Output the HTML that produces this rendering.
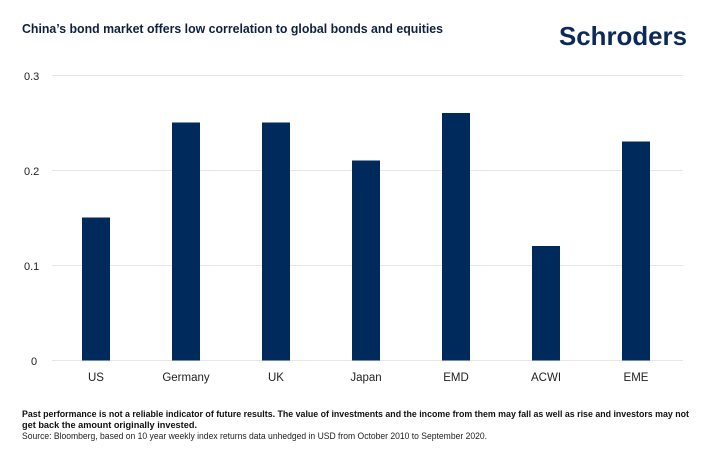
<!DOCTYPE html>
<html><head><meta charset="utf-8"><style>
body{margin:0;background:#fff;width:708px;height:449px;overflow:hidden;font-family:"Liberation Sans",sans-serif}
</style></head><body>
<svg width="708" height="449" xmlns="http://www.w3.org/2000/svg" font-family="Liberation Sans, sans-serif">
<text x="22" y="33" font-size="12.5" font-weight="bold" fill="#0f2040" textLength="421" lengthAdjust="spacingAndGlyphs">China’s bond market offers low correlation to global bonds and equities</text>
<text x="559" y="45" font-size="26" font-weight="bold" fill="#0b2a5b" textLength="128" lengthAdjust="spacingAndGlyphs">Schroders</text>
<g stroke="#e6e6e6" stroke-width="1">
<line x1="52" y1="75.5" x2="683" y2="75.5"/>
<line x1="52" y1="170.5" x2="683" y2="170.5"/>
<line x1="52" y1="265.5" x2="683" y2="265.5"/>
<line x1="52" y1="360.5" x2="683" y2="360.5"/>
</g>
<g font-size="11" fill="#222">
<text x="24" y="80">0.3</text>
<text x="24" y="175">0.2</text>
<text x="24" y="270">0.1</text>
<text x="31" y="365">0</text>
</g>
<g fill="#002a5c">
<rect x="82" y="217.5" width="28" height="143"/>
<rect x="172" y="122.5" width="28" height="238"/>
<rect x="262" y="122.5" width="28" height="238"/>
<rect x="352" y="160.5" width="28" height="200"/>
<rect x="442" y="113" width="28" height="247.5"/>
<rect x="532" y="246" width="28" height="114.5"/>
<rect x="622" y="141.5" width="28" height="219"/>
</g>
<g font-size="11.5" fill="#222" text-anchor="middle">
<text x="96" y="381">US</text>
<text x="186" y="381">Germany</text>
<text x="276" y="381">UK</text>
<text x="366" y="381">Japan</text>
<text x="456" y="381">EMD</text>
<text x="546" y="381">ACWI</text>
<text x="636" y="381">EME</text>
</g>
<text x="22" y="417" font-size="9" font-weight="bold" fill="#111" textLength="667" lengthAdjust="spacingAndGlyphs">Past performance is not a reliable indicator of future results. The value of investments and the income from them may fall as well as rise and investors may not</text>
<text x="22" y="428" font-size="9" font-weight="bold" fill="#111" textLength="175" lengthAdjust="spacingAndGlyphs">get back the amount originally invested.</text>
<text x="22" y="439" font-size="9" fill="#222" textLength="465" lengthAdjust="spacingAndGlyphs">Source: Bloomberg, based on 10 year weekly index returns data unhedged in USD from October 2010 to September 2020.</text>
</svg>
</body></html>
